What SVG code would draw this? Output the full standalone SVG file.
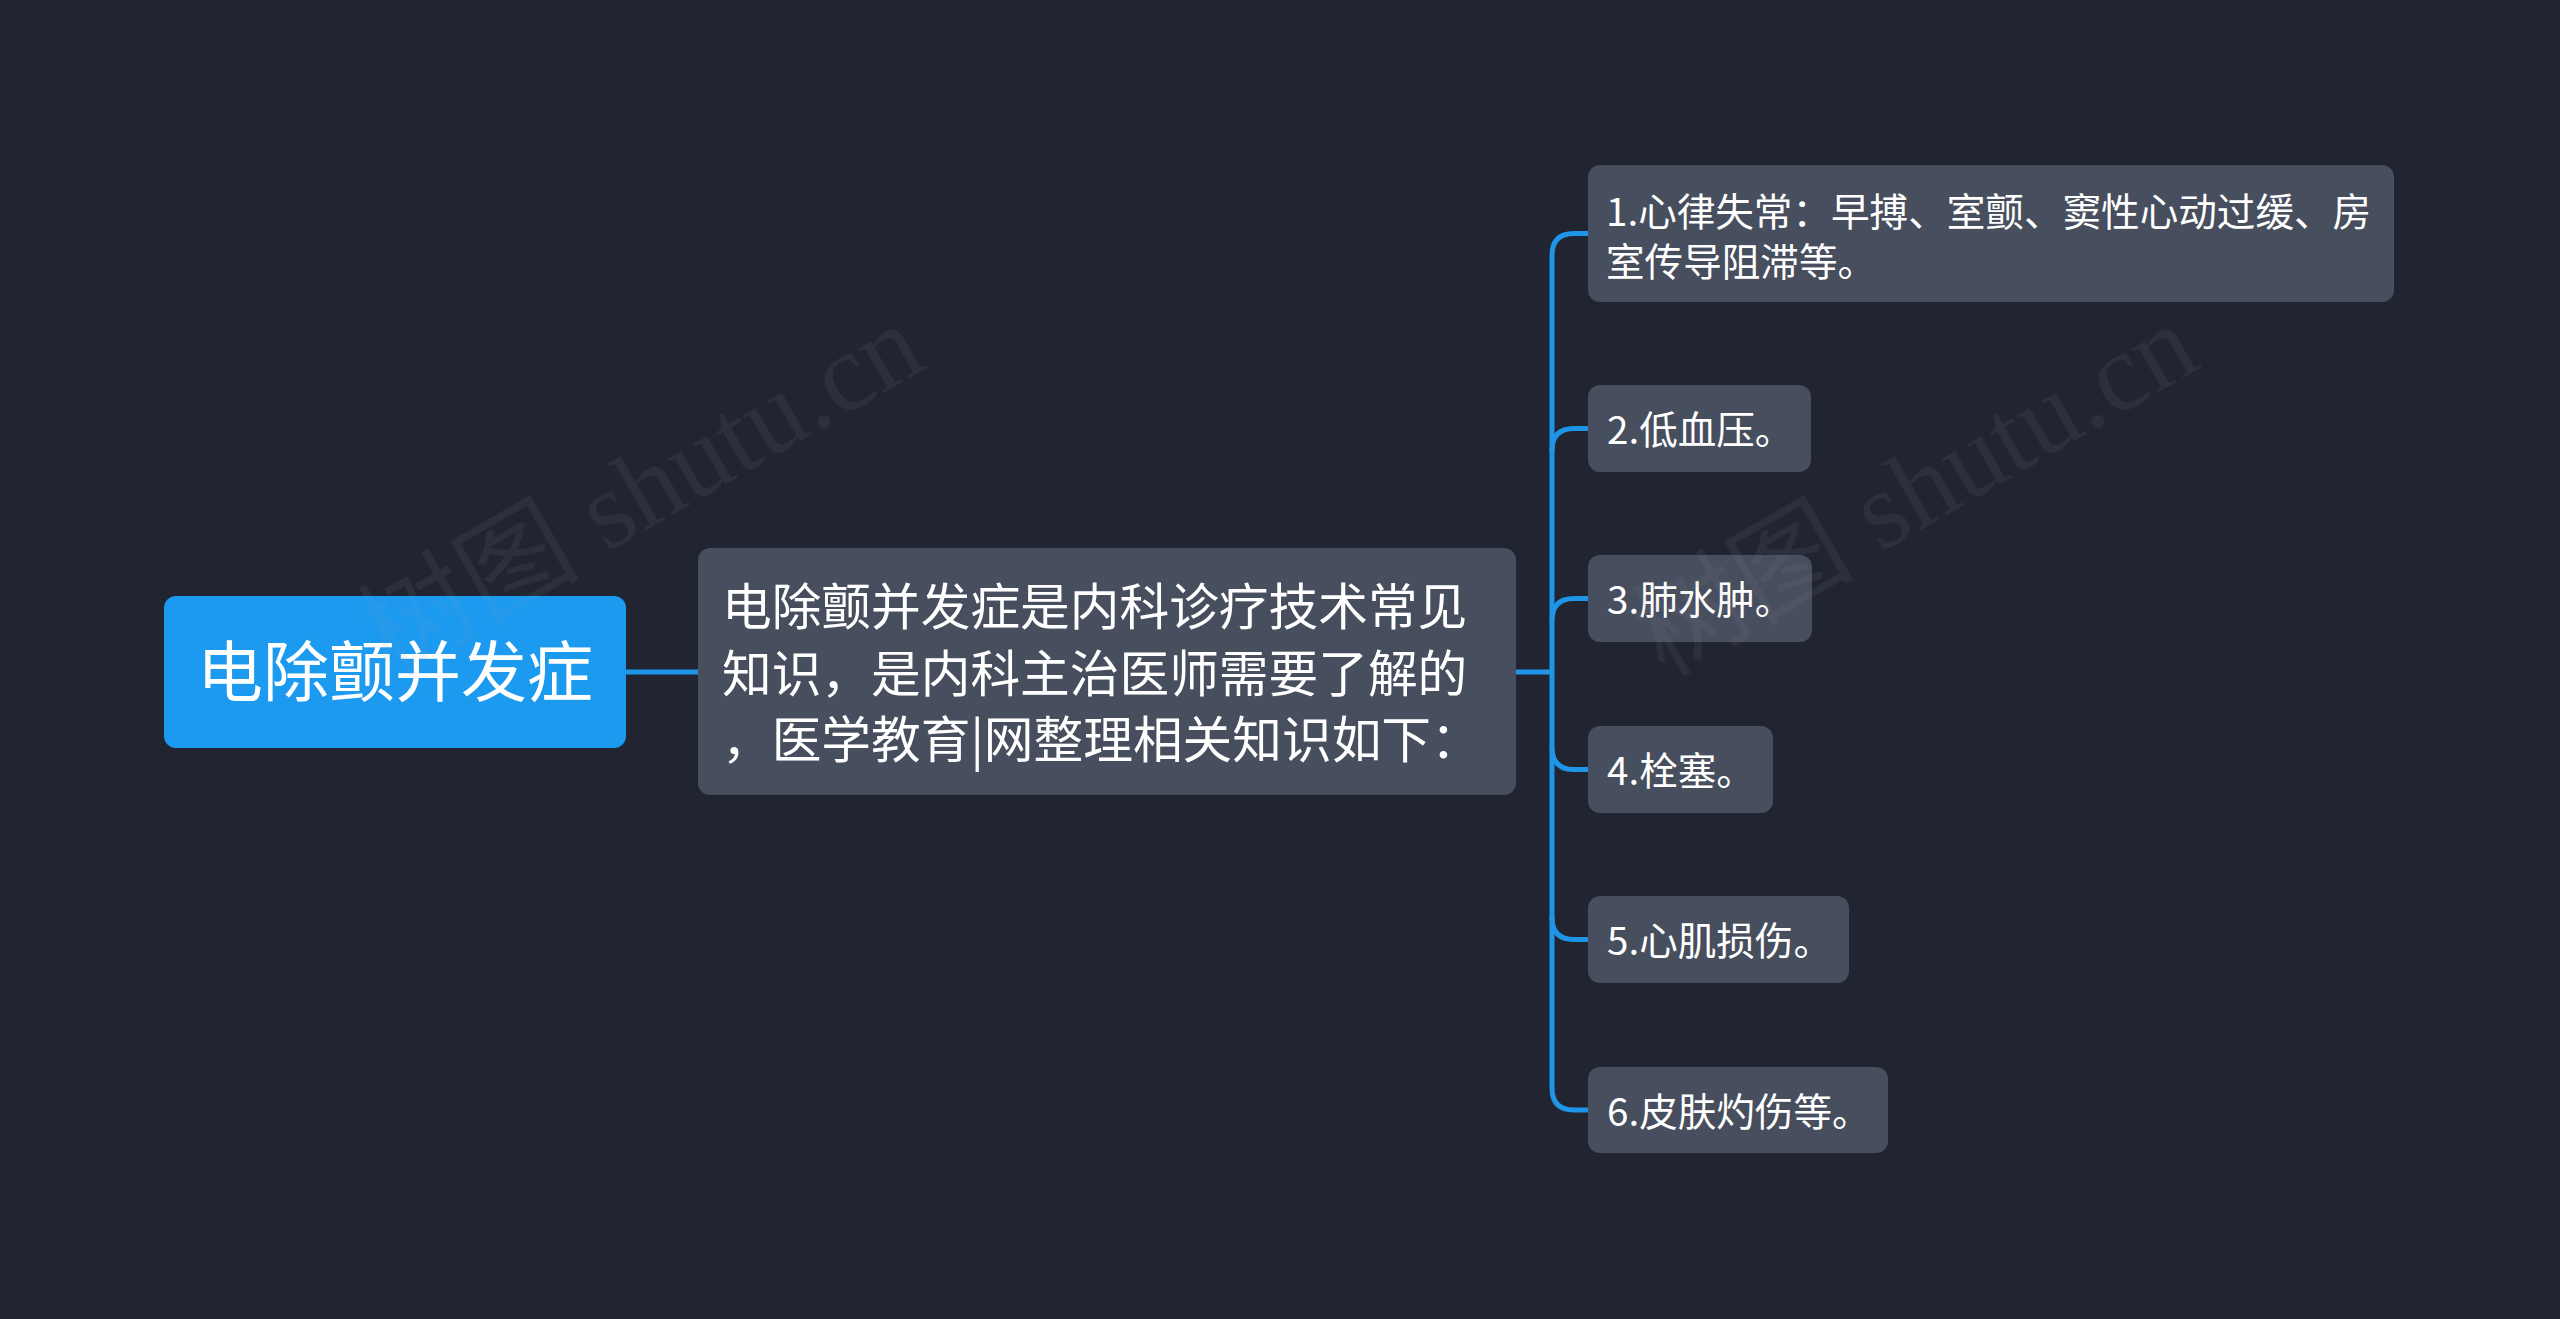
<svg xmlns="http://www.w3.org/2000/svg" width="2560" height="1319" viewBox="0 0 2560 1319">
<style>
.bg{fill:#212531}
.root{fill:#1b9af0}
.box{fill:#474e5d}
.t{font-family:"Noto Sans CJK SC","Noto Sans",sans-serif;fill:#ffffff}
.conn{fill:none;stroke:#1e95e8;stroke-width:5;stroke-linecap:round}
.wm{font-family:"Liberation Serif","Noto Sans CJK SC",serif;font-size:111px;fill:#9aa0ad;fill-opacity:0.09}
</style>
<rect class="bg" x="0" y="0" width="2560" height="1319"/>
<g id="connectors">
<path class="conn" d="M626 672 H698"/>
<path class="conn" d="M1516 672 H1552"/>
<path class="conn" d="M1588 233.5 H1574 Q1552 233.5 1552 255.5 V1088 Q1552 1110 1574 1110 H1588"/>
<path class="conn" d="M1588 428.5 H1574 Q1552 428.5 1552 450.5"/>
<path class="conn" d="M1588 598.5 H1574 Q1552 598.5 1552 620.5"/>
<path class="conn" d="M1588 769.5 H1574 Q1552 769.5 1552 747.5"/>
<path class="conn" d="M1588 939.5 H1574 Q1552 939.5 1552 917.5"/>
</g>
<g id="root">
<rect class="root" x="164" y="596" width="462" height="152" rx="12"/>
<text class="t" x="395" y="696" font-size="66" text-anchor="middle">电除颤并发症</text>
</g>
<g id="summary">
<rect class="box" x="698" y="548" width="818" height="247" rx="12"/>
<text class="t" font-size="49.7"><tspan x="722" y="624.5">电除颤并发症是内科诊疗技术常见</tspan><tspan x="722" y="691.5">知识，是内科主治医师需要了解的</tspan><tspan x="722" y="758">，医学教育|网整理相关知识如下：</tspan></text>
</g>
<g id="item1">
<rect class="box" x="1588" y="165" width="806" height="137" rx="12"/>
<text class="t" font-size="38.6"><tspan x="1606" y="226">1.心律失常：早搏、室颤、窦性心动过缓、房</tspan><tspan x="1606" y="276">室传导阻滞等。</tspan></text>
</g>
<g id="item2">
<rect class="box" x="1588" y="385" width="223" height="87" rx="12"/>
<text class="t" font-size="38.6" x="1607" y="444">2.低血压。</text>
</g>
<g id="item3">
<rect class="box" x="1588" y="555" width="224" height="87" rx="12"/>
<text class="t" font-size="38.6" x="1607" y="614">3.肺水肿。</text>
</g>
<g id="item4">
<rect class="box" x="1588" y="726" width="185" height="87" rx="12"/>
<text class="t" font-size="38.6" x="1607" y="785">4.栓塞。</text>
</g>
<g id="item5">
<rect class="box" x="1588" y="896" width="261" height="87" rx="12"/>
<text class="t" font-size="38.6" x="1607" y="955">5.心肌损伤。</text>
</g>
<g id="item6">
<rect class="box" x="1588" y="1067" width="300" height="86" rx="12"/>
<text class="t" font-size="38.6" x="1607" y="1125.5">6.皮肤灼伤等。</text>
</g>
<g id="watermark">
<text class="wm" transform="translate(390 678) rotate(-30)">树图 shutu.cn</text>
<text class="wm" transform="translate(1664 678) rotate(-30)">树图 shutu.cn</text>
</g>
</svg>
